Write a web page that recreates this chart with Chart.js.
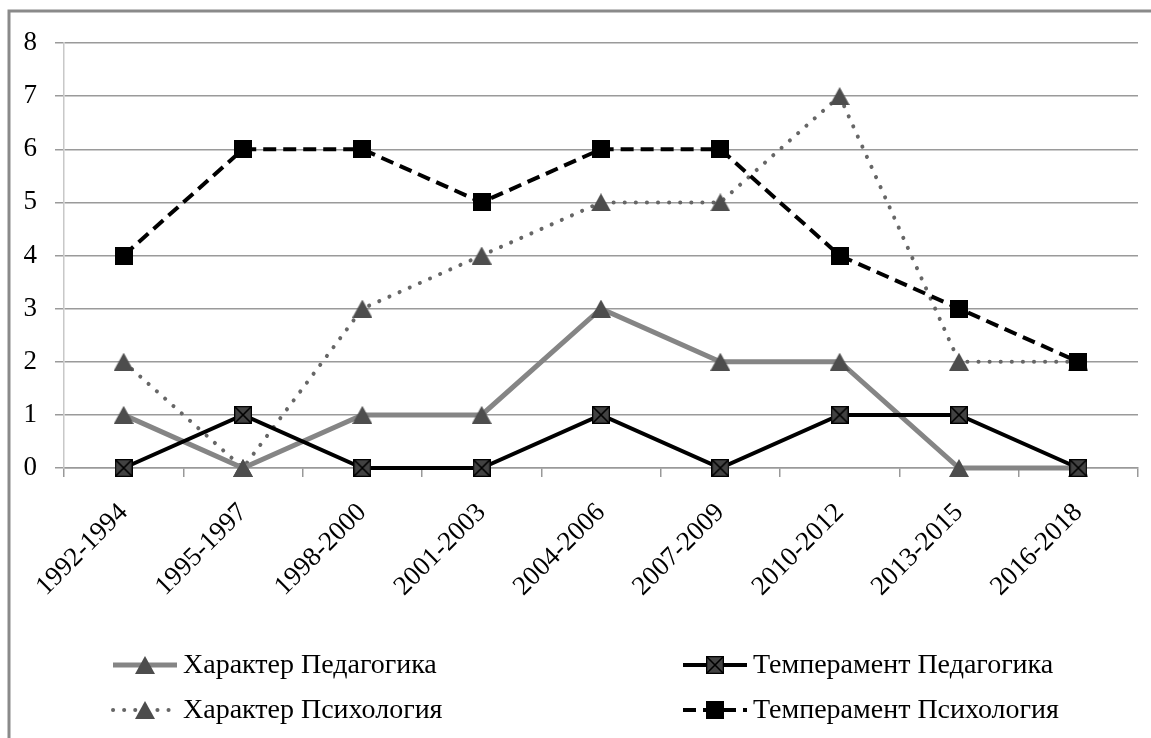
<!DOCTYPE html>
<html>
<head>
<meta charset="utf-8">
<script src="https://cdn.jsdelivr.net/npm/chart.js@4"></script>
<style>
  html, body { margin: 0; padding: 0; background: #fff; }
  #wrap { width: 1151px; height: 738px; position: relative; }
</style>
</head>
<body>
<div id="wrap"><canvas id="lineChart" width="1151" height="738"></canvas></div>
<script>
// periods on the x axis
const periods = ["1992-1994", "1995-1997", "1998-2000", "2001-2003", "2004-2006",
  "2007-2009", "2010-2012", "2013-2015", "2016-2018"];

// series values
const harPed = [1, 0, 1, 1, 3, 2, 2, 0, 0];
const tempPed = [0, 1, 0, 0, 1, 0, 1, 1, 0];
const harPsy = [2, 0, 3, 4, 5, 5, 7, 2, 2];
const tempPsy = [4, 6, 6, 5, 6, 6, 4, 3, 2];

const seriesNames = ["Характер Педагогика", "Темперамент Педагогика",
  "Характер Психология", "Темперамент Психология"];

const yTicks = [0, 1, 2, 3, 4, 5, 6, 7, 8];

// marker pictures
function makeTriangle(color) {
  const c = document.createElement("canvas");
  c.width = 20; c.height = 18;
  const g = c.getContext("2d");
  g.fillStyle = color;
  g.beginPath();
  g.moveTo(10, 0); g.lineTo(20, 18); g.lineTo(0, 18); g.closePath();
  g.fill();
  return c;
}
function makeCrossSquare() {
  const c = document.createElement("canvas");
  c.width = 18; c.height = 18;
  const g = c.getContext("2d");
  g.fillStyle = "#424242";
  g.fillRect(0, 0, 18, 18);
  g.strokeStyle = "#000";
  g.lineWidth = 1.6;
  g.beginPath();
  g.moveTo(1, 1); g.lineTo(17, 17);
  g.moveTo(17, 1); g.lineTo(1, 17);
  g.stroke();
  g.strokeRect(0.5, 0.5, 17, 17);
  return c;
}
function makeSquare() {
  const c = document.createElement("canvas");
  c.width = 18; c.height = 18;
  const g = c.getContext("2d");
  g.fillStyle = "#000";
  g.fillRect(0, 0, 18, 18);
  return c;
}

const triMark = makeTriangle("#4d4d4d");
const crossMark = makeCrossSquare();
const squareMark = makeSquare();

const frame = {
  id: "frame",
  beforeDraw(chart) {
    const ctx = chart.ctx;
    ctx.save();
    ctx.fillStyle = "#fff";
    ctx.fillRect(0, 0, chart.width, chart.height);
    ctx.strokeStyle = "#8a8a8a";
    ctx.lineWidth = 3;
    ctx.beginPath();
    ctx.moveTo(9, chart.height);
    ctx.lineTo(9, 11);
    ctx.lineTo(chart.width, 11);
    ctx.stroke();
    ctx.restore();
  }
};

// legend in two columns, like the original
const legendGrid = {
  id: "legendGrid",
  afterDraw(chart) {
    const ctx = chart.ctx;
    const spots = [
      { x: 113, y: 665 }, { x: 683, y: 665 },
      { x: 113, y: 710 }, { x: 683, y: 710 }
    ];
    chart.data.datasets.forEach((ds, i) => {
      const p = spots[i];
      const len = 64;
      ctx.save();
      ctx.strokeStyle = ds.borderColor;
      ctx.lineWidth = ds.borderWidth;
      ctx.lineCap = ds.borderCapStyle || "butt";
      ctx.setLineDash(ds.borderDash || []);
      ctx.beginPath();
      ctx.moveTo(p.x, p.y);
      ctx.lineTo(p.x + len, p.y);
      ctx.stroke();
      ctx.setLineDash([]);
      const img = ds.pointStyle;
      ctx.drawImage(img, p.x + len / 2 - img.width / 2, p.y - img.height / 2);
      ctx.fillStyle = "#000";
      ctx.font = "28px 'Liberation Serif'";
      ctx.textBaseline = "middle";
      ctx.fillText(ds.label, p.x + len + 6, p.y + 1);
      ctx.restore();
    });
  }
};

const ctx = document.getElementById("lineChart").getContext("2d");
new Chart(ctx, {
  type: "line",
  data: {
    labels: periods,
    datasets: [
      {
        label: seriesNames[0],
        data: harPed,
        borderColor: "#858585",
        borderWidth: 5,
        pointStyle: triMark,
        clip: false,
        order: 3
      },
      {
        label: seriesNames[1],
        data: tempPed,
        borderColor: "#000",
        borderWidth: 4,
        pointStyle: crossMark,
        clip: false,
        order: 1
      },
      {
        label: seriesNames[2],
        data: harPsy,
        borderColor: "#666",
        borderWidth: 4,
        borderDash: [0.1, 11],
        borderCapStyle: "round",
        pointStyle: triMark,
        clip: false,
        order: 4
      },
      {
        label: seriesNames[3],
        data: tempPsy,
        borderColor: "#000",
        borderWidth: 4,
        borderDash: [13, 7],
        pointStyle: squareMark,
        clip: false,
        order: 2
      }
    ]
  },
  options: {
    responsive: false,
    animation: false,
    layout: { padding: { top: 43, left: 12, right: 13, bottom: 100 } },
    elements: { line: { tension: 0, fill: false } },
    plugins: {
      legend: { display: false },
      tooltip: { enabled: false }
    },
    scales: {
      x: {
        offset: true,
        grid: {
          drawOnChartArea: false,
          drawTicks: true,
          tickLength: 9,
          color: "#999",
          lineWidth: 1.5,
          offset: true
        },
        border: { color: "#999", width: 1.5 },
        ticks: {
          minRotation: 45,
          maxRotation: 45,
          padding: 20,
          color: "#000",
          font: { family: "Liberation Serif", size: 27 }
        },
        afterFit(scale) { scale.height = 170; }
      },
      y: {
        min: 0,
        max: 8,
        afterBuildTicks(scale) { scale.ticks = yTicks.map(v => ({ value: v })); },
        grid: {
          color: "#9a9a9a",
          lineWidth: 1.5,
          tickLength: 9
        },
        border: { color: "#c8c8c8", width: 1.5 },
        ticks: {
          padding: 18,
          color: "#000",
          font: { family: "Liberation Serif", size: 27 }
        },
        afterFit(scale) { scale.width = 52; }
      }
    }
  },
  plugins: [frame, legendGrid]
});
</script>
</body>
</html>
